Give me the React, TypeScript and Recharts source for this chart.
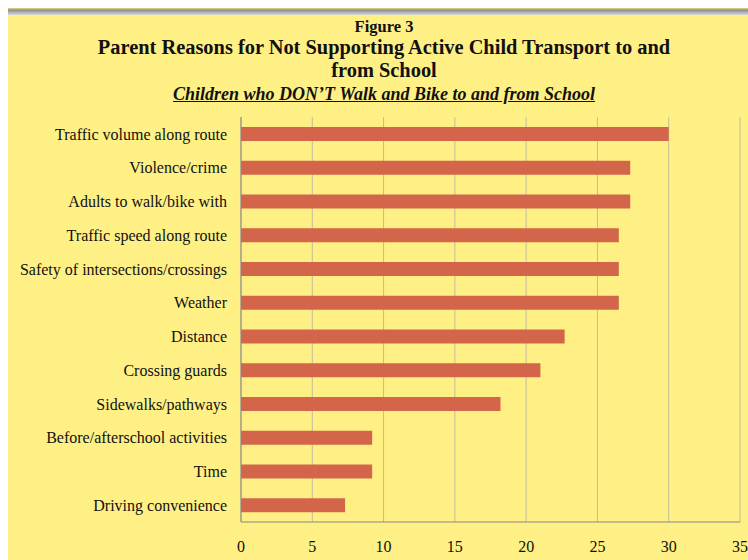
import { BarChart, Bar, XAxis, YAxis, CartesianGrid } from 'recharts'

const reasons = [
  'Traffic volume along route',
  'Violence/crime',
  'Adults to walk/bike with',
  'Traffic speed along route',
  'Safety of intersections/crossings',
  'Weather',
  'Distance',
  'Crossing guards',
  'Sidewalks/pathways',
  'Before/afterschool activities',
  'Time',
  'Driving convenience',
]
const percents = [30.0, 27.3, 27.3, 26.5, 26.5, 26.5, 22.7, 21.0, 18.2, 9.2, 9.2, 7.3]
const xTicks = [0, 5, 10, 15, 20, 25, 30, 35]

const data = reasons.map((name, i) => ({ name, value: percents[i] }))

const serif = '"Liberation Serif", "Times New Roman", Times, serif'

export default function App() {
  return (
    <div style={{ position: 'absolute', left: 0, top: 0, width: 748, height: 560, background: '#fff', overflow: 'hidden', fontFamily: serif }}>
      {/* panel */}
      <div style={{ position: 'absolute', left: 8, top: 8, width: 740, height: 7, background: 'linear-gradient(#e9d97a, #8d8d8d 30%, #d9d9d9)' }} />
      <div style={{ position: 'absolute', left: 8, top: 15, width: 740, height: 545, background: '#FFF085' }} />

      <div style={{ position: 'absolute', left: 0, top: 0, width: 768, textAlign: 'center', color: '#111' }}>
        <div style={{ position: 'absolute', top: 17, width: '100%', fontFamily: serif, fontSize: 16.5, fontWeight: 'bold' }}>Figure 3</div>
        <div style={{ position: 'absolute', top: 36, width: '100%', fontFamily: serif, fontSize: 20.4, fontWeight: 'bold', lineHeight: '23px' }}>
          Parent Reasons for Not Supporting Active Child Transport to and<br />from School
        </div>
        <div style={{ position: 'absolute', top: 84, width: '100%', fontFamily: serif, fontSize: 18, fontWeight: 'bold', fontStyle: 'italic', textDecoration: 'underline' }}>
          Children who DON’T Walk and Bike to and from School
        </div>
      </div>

      <div style={{ position: 'absolute', left: 0, top: 0 }}>
        <BarChart
          width={748}
          height={560}
          data={data}
          layout="vertical"
          margin={{ top: 117, right: 8, bottom: 0, left: 0 }}
        >
          <CartesianGrid horizontal={false} stroke="#C2BC9A" strokeWidth={1} />
          <XAxis
            type="number"
            domain={[0, 35]}
            ticks={xTicks}
            interval={0}
            height={38}
            tickLine={false}
            axisLine={{ stroke: '#888' }}
            tickMargin={13}
            tick={{ fill: '#111', fontSize: 16, fontFamily: serif }}
          />
          <YAxis
            type="category"
            dataKey="name"
            width={241}
            interval={0}
            tickLine={false}
            axisLine={{ stroke: '#888' }}
            tickMargin={8}
            tick={{ fill: '#111', fontSize: 16, fontFamily: serif }}
          />
          <Bar dataKey="value" fill="#D2654A" barSize={14} isAnimationActive={false} />
        </BarChart>
      </div>
    </div>
  )
}
